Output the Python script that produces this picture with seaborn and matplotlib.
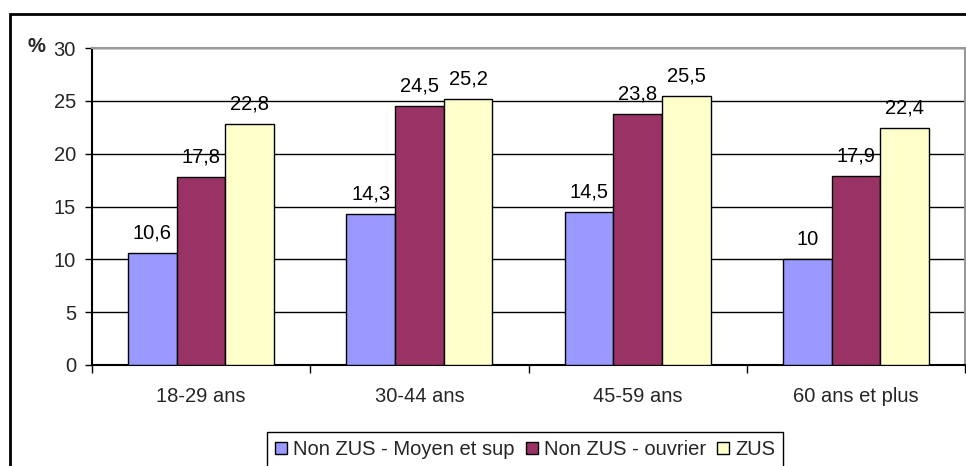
import matplotlib
matplotlib.use("Agg")
import matplotlib.pyplot as plt
from matplotlib.patches import Rectangle, Patch
from matplotlib.ticker import FixedLocator
import seaborn as sns
import pandas as pd

# Age groups and the three populations compared
groups = ["18-29 ans", "30-44 ans", "45-59 ans", "60 ans et plus"]
series = ["Non ZUS - Moyen et sup", "Non ZUS - ouvrier", "ZUS"]
moyen_sup = [10.6, 14.3, 14.5, 10.0]
ouvrier = [17.8, 24.5, 23.8, 17.9]
zus = [22.8, 25.2, 25.5, 22.4]
colors = ["#9999FF", "#993366", "#FFFFCC"]
yticks = [0, 5, 10, 15, 20, 25, 30]

values = [moyen_sup, ouvrier, zus]
df = pd.DataFrame({
    "groupe": groups * 3,
    "serie": [s for s in series for _ in groups],
    "valeur": moyen_sup + ouvrier + zus,
})

sns.set_theme(style="white")
plt.rcParams["font.family"] = ["Liberation Sans", "DejaVu Sans"]
FS = 14.5

W, H = 966, 466
fig = plt.figure(figsize=(W / 100, H / 100), dpi=100)
ax = fig.add_axes([92 / W, 101 / H, (965 - 92) / W, (365 - 48) / H])

sns.barplot(data=df, x="groupe", y="valeur", hue="serie", order=groups,
            hue_order=series, palette=colors, saturation=1, width=0.67,
            edgecolor="black", linewidth=1, legend=False, errorbar=None,
            ax=ax, zorder=3)

def fmt(v):
    return f"{v:g}".replace(".", ",")

for cont, vals in zip(ax.containers, values):
    ax.bar_label(cont, labels=[fmt(v) for v in vals], padding=7.5,
                 fontsize=FS, color="black")

ax.set_xlim(-0.5, len(groups) - 0.5)
ax.set_ylim(0, 30)
ax.set_yticks(yticks)
ax.set_yticklabels([str(t) for t in yticks], fontsize=FS)
ax.set_xlabel("")
ax.set_ylabel("")
ax.tick_params(axis="x", which="major", length=0, labelsize=FS, pad=16)
ax.xaxis.set_minor_locator(FixedLocator([i - 0.5 for i in range(len(groups) + 1)]))
ax.tick_params(axis="x", which="minor", length=6, width=1, color="black",
               direction="out", bottom=True)
ax.tick_params(axis="y", which="major", length=5, width=1, color="black",
               direction="out", left=True, pad=6.5)

ax.grid(axis="y", color="black", linewidth=1, zorder=0)
ax.set_axisbelow(True)
for side in ["left", "bottom"]:
    ax.spines[side].set_color("black")
    ax.spines[side].set_linewidth(1.5)
for side in ["top", "right"]:
    ax.spines[side].set_color("#999999")
    ax.spines[side].set_linewidth(1.5)

fig.text(27 / W, 1 - 46 / H, "%", fontsize=FS, fontweight="bold",
         ha="left", va="center")

handles = [Patch(facecolor=c, edgecolor="black", linewidth=1) for c in colors]
leg = fig.legend(handles, series, loc="upper left",
                 bbox_to_anchor=(267 / W, 1 - 432 / H), ncol=3,
                 frameon=True, fancybox=False, edgecolor="black",
                 framealpha=1, fontsize=FS, handlelength=0.6,
                 handleheight=0.6, handletextpad=0.3, columnspacing=0.55,
                 borderpad=0.4, borderaxespad=0)
leg.get_frame().set_linewidth(1)

fig.add_artist(Rectangle((10 / W, -0.1), 2.0, 1 - 14 / H + 0.1,
                         transform=fig.transFigure, fill=False,
                         edgecolor="black", linewidth=2, clip_on=False))

fig.savefig("out.png", dpi=100)
